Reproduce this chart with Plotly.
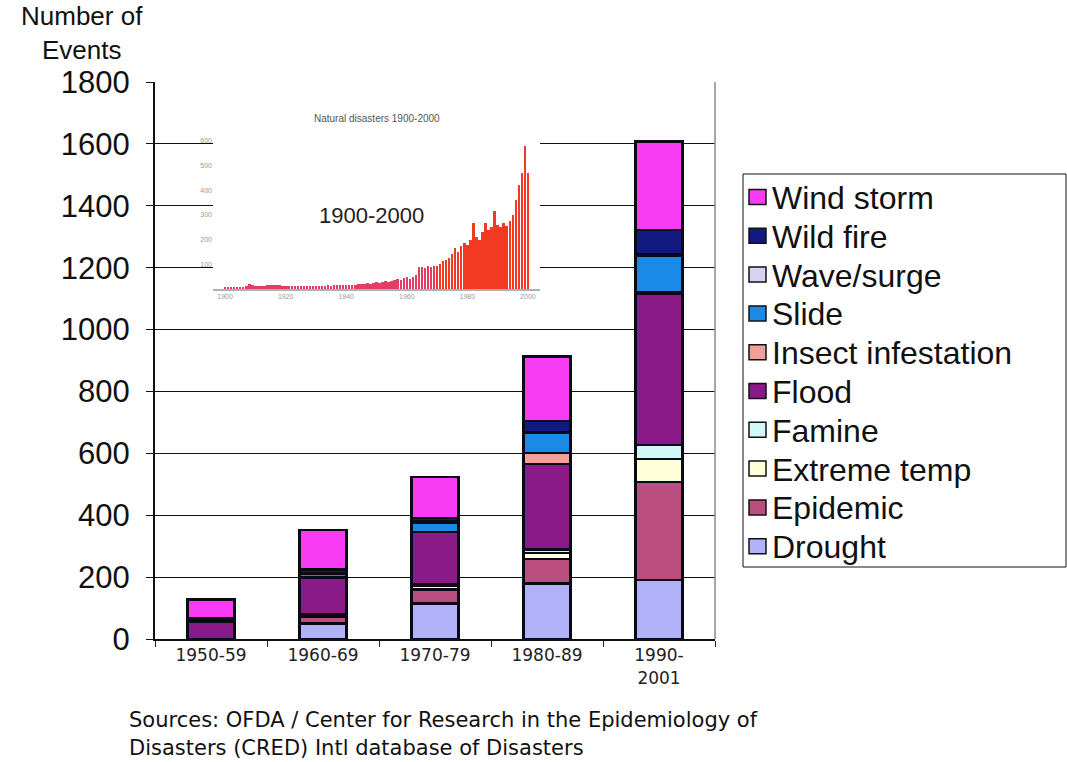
import plotly.graph_objects as go

# Decades on the category axis
periods = ["1950-59", "1960-69", "1970-79", "1980-89", "1990-<br>2001"]

# Number of events per disaster type (stacked bottom to top)
drought = [0, 50, 115, 180, 191]
epidemic = [0, 22, 45, 78, 316]
extreme_temp = [0, 6, 12, 20, 75]
famine = [0, 3, 6, 12, 45]
flood = [55, 118, 168, 275, 490]
insect_infestation = [0, 0, 0, 36, 3]
slide = [8, 12, 30, 64, 120]
wave_surge = [0, 3, 3, 4, 3]
wild_fire = [4, 10, 12, 35, 78]
wind_storm = [60, 128, 132, 209, 286]

series_names = ["Drought", "Epidemic", "Extreme temp", "Famine", "Flood",
                "Insect infestation", "Slide", "Wave/surge", "Wild fire", "Wind storm"]
series_values = [drought, epidemic, extreme_temp, famine, flood,
                 insect_infestation, slide, wave_surge, wild_fire, wind_storm]
series_colors = ["#B2B2F8", "#BA4F7F", "#FFFFDA", "#D2F8F8", "#8A1A88",
                 "#F4A09A", "#1A8AE6", "#D4D4F2", "#121A82", "#F73CF3"]

# Yearly disaster counts for the small 1900-2000 panel
inset_years = list(range(1900, 2001))
inset_counts = [
    6, 6, 7, 8, 8, 9, 10, 14, 20, 15,
    12, 12, 13, 14, 15, 17, 18, 16, 15, 14,
    13, 12, 12, 11, 12, 12, 13, 12, 13, 14,
    13, 14, 13, 14, 15, 14, 15, 16, 15, 17,
    16, 17, 18, 18, 20, 21, 22, 24, 22, 26,
    28, 26, 30, 32, 30, 34, 36, 40, 38, 45,
    48, 42, 50, 55, 88, 90, 86, 92, 90, 94,
    95, 100, 112, 119, 125, 140, 166, 150, 175, 186,
    180, 200, 267, 210, 200, 230, 267, 240, 250, 315,
    260, 250, 267, 255, 275, 300, 362, 420, 470, 578,
    470,
]

# Plot-area geometry in pixels
FIG_W, FIG_H = 1067, 762
L, R, T, B = 155, 352, 82, 123
PW, PH = FIG_W - L - R, FIG_H - T - B


def px(x):
    return (x - L) / PW


def py(y):
    return (T + PH - y) / PH


fig = go.Figure()

for name, vals, col in zip(series_names, series_values, series_colors):
    fig.add_trace(go.Bar(
        x=periods, y=vals, name=name, width=0.42,
        marker=dict(color=col, line=dict(color="#0a0a14", width=2.5)),
        xaxis="x", yaxis="y",
    ))

inset_colors = ["#E63C64" if yr < 1970 else "#F23A22" for yr in inset_years]
fig.add_trace(go.Bar(
    x=inset_years, y=inset_counts, width=0.8,
    marker=dict(color=inset_colors, line=dict(width=0)),
    xaxis="x2", yaxis="y2", showlegend=False,
))

shapes = []
# white panel behind the small 1900-2000 chart
shapes.append(dict(type="rect", xref="paper", yref="paper",
                   x0=px(158), x1=px(546), y0=py(318), y1=py(88),
                   fillcolor="white", line=dict(width=0), layer="between"))
# right border of the plot area
shapes.append(dict(type="line", xref="paper", yref="paper",
                   x0=1, x1=1, y0=0, y1=1, line=dict(color="#8a8a8a", width=1.5)))

annotations = []
# legend box
LEG_X0, LEG_X1, LEG_Y0, LEG_Y1 = 743, 1066, 174, 567
shapes.append(dict(type="rect", xref="paper", yref="paper",
                   x0=px(LEG_X0), x1=px(LEG_X1), y0=py(LEG_Y1), y1=py(LEG_Y0),
                   fillcolor="white", line=dict(color="#111", width=1)))
row_y0, row_step = 197, 38.8
for i, (name, col) in enumerate(zip(series_names[::-1], series_colors[::-1])):
    cy = row_y0 + i * row_step
    shapes.append(dict(type="rect", xref="paper", yref="paper",
                       x0=px(749), x1=px(766), y0=py(cy + 7.5), y1=py(cy - 7.5),
                       fillcolor=col, line=dict(color="#111", width=1.5)))
    annotations.append(dict(text=name, xref="paper", yref="paper",
                            x=px(770), y=py(cy + 1), xanchor="left", yanchor="middle",
                            showarrow=False,
                            font=dict(family="Liberation Sans", size=32, color="#111")))

# y-axis caption
annotations.append(dict(text="Number of<br>Events", xref="paper", yref="paper",
                        x=px(82), y=py(33), xanchor="center", yanchor="middle",
                        showarrow=False, align="center",
                        font=dict(family="Liberation Sans", size=26, color="#111")))

# source note
annotations.append(dict(text="Sources: OFDA / Center for Research in the Epidemiology of",
                        xref="paper", yref="paper", x=px(127), y=py(720),
                        xanchor="left", yanchor="middle", showarrow=False,
                        font=dict(family="DejaVu Sans", size=21, color="#111")))
annotations.append(dict(text="Disasters (CRED) Intl database of Disasters",
                        xref="paper", yref="paper", x=px(127), y=py(748),
                        xanchor="left", yanchor="middle", showarrow=False,
                        font=dict(family="DejaVu Sans", size=21, color="#111")))

# labels of the small panel
annotations.append(dict(text="Natural disasters 1900-2000", xref="paper", yref="paper",
                        x=px(377), y=py(118), xanchor="center", yanchor="middle",
                        showarrow=False,
                        font=dict(family="Liberation Sans", size=10, color="#555")))
annotations.append(dict(text="1900-2000", xref="paper", yref="paper",
                        x=px(371), y=py(215), xanchor="center", yanchor="middle",
                        showarrow=False,
                        font=dict(family="Liberation Sans", size=22, color="#222")))

fig.update_layout(
    width=FIG_W, height=FIG_H,
    margin=dict(l=L, r=R, t=T, b=B),
    barmode="stack",
    plot_bgcolor="white", paper_bgcolor="white",
    showlegend=False,
    xaxis=dict(
        domain=[0, 1], anchor="y",
        tickfont=dict(family="DejaVu Sans", size=17, color="#222"),
        ticks="outside", tickson="boundaries", ticklen=6, tickcolor="#222",
        showline=True, linecolor="#111", linewidth=2, showgrid=False,
    ),
    yaxis=dict(
        domain=[0, 1], anchor="x",
        range=[0, 1800], tickvals=[0, 200, 400, 600, 800, 1000, 1200, 1400, 1600, 1800],
        tickfont=dict(family="Liberation Sans", size=31, color="#111"),
        ticks="outside", ticklen=7, tickcolor="#111", ticklabelstandoff=10,
        showline=True, linecolor="#111", linewidth=2,
        showgrid=True, gridcolor="#111", gridwidth=1, zeroline=False,
    ),
    xaxis2=dict(
        domain=[px(213), px(540)], anchor="y2", range=[1896, 2004],
        tickvals=[1900, 1920, 1940, 1960, 1980, 2000],
        tickfont=dict(family="Liberation Sans", size=7, color="#9a9a9a"),
        showline=True, linecolor="#b0b0b0", linewidth=1.5, showgrid=False,
        ticks="", zeroline=False,
    ),
    yaxis2=dict(
        domain=[py(289), py(141)], anchor="x2", range=[0, 600],
        tickvals=[100, 200, 300, 400, 500, 600],
        tickfont=dict(family="Liberation Sans", size=7, color="#9a9a9a"),
        showline=False, showgrid=False, zeroline=False, ticks="",
    ),
    shapes=shapes,
    annotations=annotations,
)

fig.write_html("out.html")
